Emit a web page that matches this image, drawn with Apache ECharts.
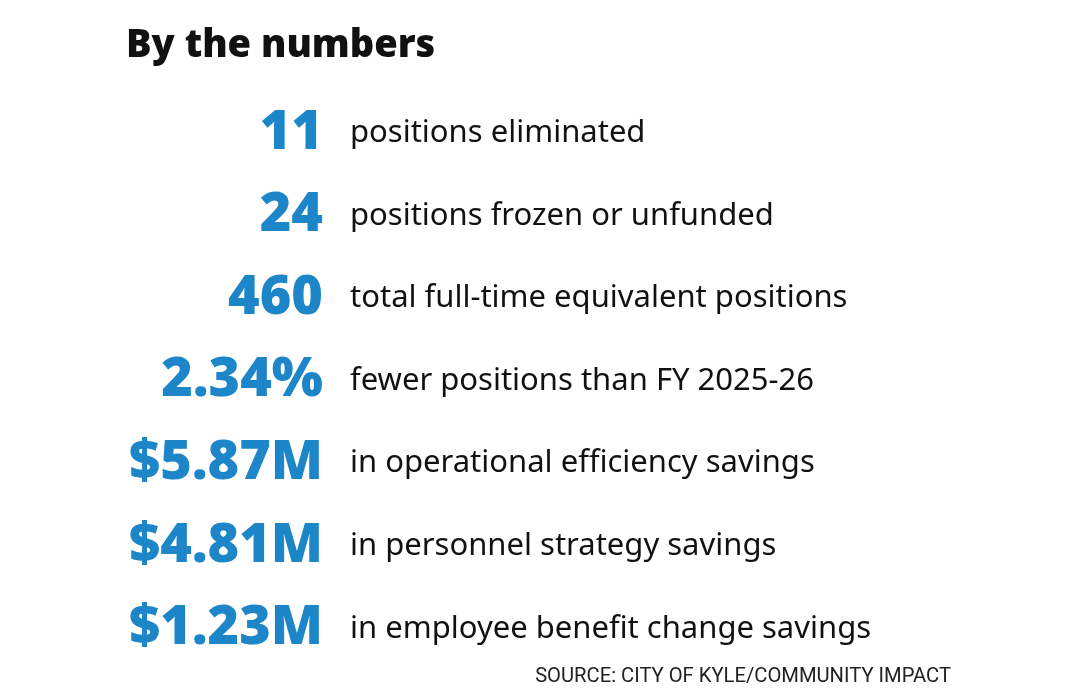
<!DOCTYPE html>
<html lang="en">
<head>
<meta charset="UTF-8">
<title>By the numbers</title>
<script src="https://cdn.jsdelivr.net/npm/echarts@6/dist/echarts.min.js"></script>
<style>
  html, body { margin: 0; padding: 0; background: #fff; }
  #main { width: 1080px; height: 699px; }
</style>
</head>
<body>
<div id="main"></div>
<script>
// figures shown on the left, in blue
var figures = ['11', '24', '460', '2.34%', '$5.87M', '$4.81M', '$1.23M'];
// what each figure means
var captions = [
  'positions eliminated',
  'positions frozen or unfunded',
  'total full-time equivalent positions',
  'fewer positions than FY 2025-26',
  'in operational efficiency savings',
  'in personnel strategy savings',
  'in employee benefit change savings'
];
var titleText = 'By the numbers';
var sourceText = 'SOURCE: CITY OF KYLE/COMMUNITY IMPACT';

var blue = '#1c86c9';

var chart = echarts.init(document.getElementById('main'));

var option = {
  backgroundColor: '#fff',
  animation: false,
  title: [{
    text: titleText,
    left: 121,
    top: 22,
    textStyle: {
      fontFamily: 'Open Sans',
      fontWeight: 800,
      fontSize: 38,
      color: '#111'
    }
  }, {
    text: sourceText,
    right: 124,
    top: 662,
    textStyle: {
      fontFamily: 'Roboto',
      fontWeight: 'normal',
      fontSize: 20.2,
      color: '#222'
    }
  }],
  grid: { left: 323, right: 20, top: 92, bottom: 29 },
  xAxis: { type: 'value', min: 0, max: 1, show: false },
  yAxis: {
    type: 'category',
    inverse: true,
    data: figures,
    axisLine: { show: false },
    axisTick: { show: false },
    splitLine: { show: false },
    axisLabel: {
      margin: 0,
      fontFamily: 'Open Sans',
      fontWeight: 800,
      fontSize: 54,
      color: blue
    }
  },
  series: [{
    type: 'scatter',
    symbolSize: 0,
    silent: true,
    itemStyle: { opacity: 1 },
    data: captions.map(function (c, i) { return { value: [0, i], name: c }; }),
    label: {
      show: true,
      position: 'right',
      distance: 27,
      formatter: function (p) { return p.name; },
      fontFamily: 'Noto Sans',
      fontSize: 31,
      color: '#111'
    }
  }]
};

chart.setOption(option);
</script>
</body>
</html>
